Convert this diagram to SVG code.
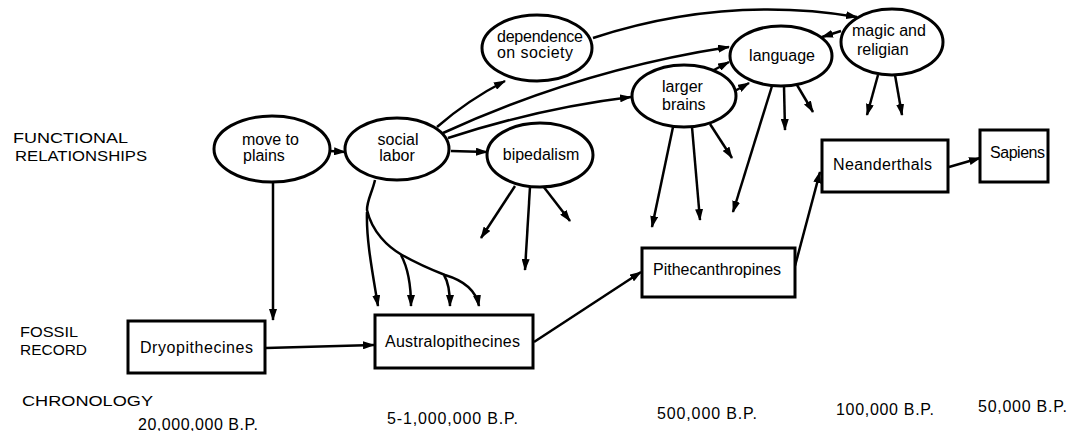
<svg xmlns="http://www.w3.org/2000/svg" width="1073" height="431" viewBox="0 0 1073 431">
<defs>
<marker id="ah" viewBox="0 0 12 8" refX="11" refY="4" markerWidth="12" markerHeight="8" orient="auto" markerUnits="userSpaceOnUse">
<path d="M0,0 L12,4 L0,8 z" fill="#000"/>
</marker>
<style>
.node ellipse,.node rect{fill:#fff;stroke:#000;stroke-width:3}
.node text{font-family:"Liberation Sans",Arial,sans-serif;font-size:16px;fill:#000}
.conn path{fill:none;stroke:#000;stroke-width:2.5;marker-end:url(#ah)}
.lbl{font-family:"Liberation Sans",Arial,sans-serif;font-size:15px;fill:#000}
.chr{font-family:"Liberation Sans",Arial,sans-serif;font-size:16px;fill:#000}
</style>
</defs>
<rect width="1073" height="431" fill="#fff"/>

<g id="labels">
<text class="lbl" x="13" y="143" textLength="115" lengthAdjust="spacingAndGlyphs">FUNCTIONAL</text>
<text class="lbl" x="15" y="161" textLength="132" lengthAdjust="spacingAndGlyphs">RELATIONSHIPS</text>
<text class="lbl" x="20" y="337" textLength="58" lengthAdjust="spacingAndGlyphs">FOSSIL</text>
<text class="lbl" x="20" y="355" textLength="67" lengthAdjust="spacingAndGlyphs">RECORD</text>
<text class="lbl" x="22" y="406" textLength="131" lengthAdjust="spacingAndGlyphs">CHRONOLOGY</text>
<text class="chr" x="138" y="430" textLength="120" lengthAdjust="spacing">20,000,000 B.P.</text>
<text class="chr" x="387" y="424" textLength="131" lengthAdjust="spacing">5-1,000,000 B.P.</text>
<text class="chr" x="657" y="419" textLength="100" lengthAdjust="spacing">500,000 B.P.</text>
<text class="chr" x="836" y="415" textLength="98" lengthAdjust="spacing">100,000 B.P.</text>
<text class="chr" x="978" y="412" textLength="89" lengthAdjust="spacing">50,000 B.P.</text>
</g>

<g id="connectors" class="conn">
<path d="M330,151 L345,152"/>
<path d="M273,183 L273,320"/>
<path d="M266,348 L374,345"/>
<path d="M534,342 L641,272"/>
<path d="M795,266 L820,172"/>
<path d="M949,167 L980,158"/>
<path d="M451,151 L487,152"/>
<path d="M437,127 Q468,100 505,81"/>
<path d="M443,133 Q580,70 729,47"/>
<path d="M448,138 Q540,108 631,97"/>
<path d="M593,38 Q725,-5 857,17"/>
<path d="M712,71 L729,62"/>
<path d="M733,92 L749,83"/>
<path d="M841,31 L822,37"/>
<path d="M515,186 L481,238"/>
<path d="M530,187 L525,270"/>
<path d="M543,186 L570,221"/>
<path d="M673,127 L652,227"/>
<path d="M692,127 L700,220"/>
<path d="M710,124 L732,158"/>
<path d="M772,86 L733,212"/>
<path d="M784,86 L785,130"/>
<path d="M797,85 L813,112"/>
<path d="M878,75 L867,115"/>
<path d="M895,75 L902,115"/>
<path d="M375,180 C372,193 367,200 367,210 C372,232 388,247 402,255 C418,264 432,270 445,275 C462,280 476,290 479,306"/>
<path d="M367,212 C366,240 373,275 378,306"/>
<path d="M401,255 C408,268 411,285 411,306"/>
<path d="M444,275 C449,283 450,295 450,306"/>
</g>

<g id="move-to-plains" class="node">
<ellipse cx="272" cy="149" rx="58" ry="33"/>
<text x="242" y="145">move to</text>
<text x="243" y="161">plains</text>
</g>
<g id="social-labor" class="node">
<ellipse cx="397" cy="149" rx="52" ry="31"/>
<text x="398" y="145" text-anchor="middle">social</text>
<text x="397" y="161" text-anchor="middle">labor</text>
</g>
<g id="dependence-on-society" class="node">
<ellipse cx="537" cy="48" rx="55" ry="33"/>
<text x="497" y="42" textLength="86" lengthAdjust="spacing">dependence</text>
<text x="497" y="58" textLength="76" lengthAdjust="spacing">on society</text>
</g>
<g id="bipedalism" class="node">
<ellipse cx="540" cy="155" rx="53" ry="32"/>
<text x="541" y="160" text-anchor="middle">bipedalism</text>
</g>
<g id="larger-brains" class="node">
<ellipse cx="684" cy="96" rx="52" ry="31"/>
<text x="662" y="92">larger</text>
<text x="662" y="110">brains</text>
</g>
<g id="language" class="node">
<ellipse cx="781" cy="56" rx="51" ry="30"/>
<text x="782" y="61" text-anchor="middle">language</text>
</g>
<g id="magic-and-religian" class="node">
<ellipse cx="892" cy="42" rx="51" ry="33"/>
<text x="852" y="36">magic and</text>
<text x="857" y="55">religian</text>
</g>

<g id="dryopithecines" class="node">
<rect x="128" y="321" width="137" height="52"/>
<text x="140" y="353" textLength="113" lengthAdjust="spacing">Dryopithecines</text>
</g>
<g id="australopithecines" class="node">
<rect x="375" y="315" width="158" height="53"/>
<text x="385" y="347" textLength="135" lengthAdjust="spacing">Australopithecines</text>
</g>
<g id="pithecanthropines" class="node">
<rect x="642" y="248" width="153" height="49"/>
<text x="653" y="275">Pithecanthropines</text>
</g>
<g id="neanderthals" class="node">
<rect x="822" y="140" width="126" height="52"/>
<text x="833" y="170" textLength="99" lengthAdjust="spacing">Neanderthals</text>
</g>
<g id="sapiens" class="node">
<rect x="980" y="130" width="68" height="52"/>
<text x="990" y="158" textLength="55" lengthAdjust="spacing">Sapiens</text>
</g>
</svg>
